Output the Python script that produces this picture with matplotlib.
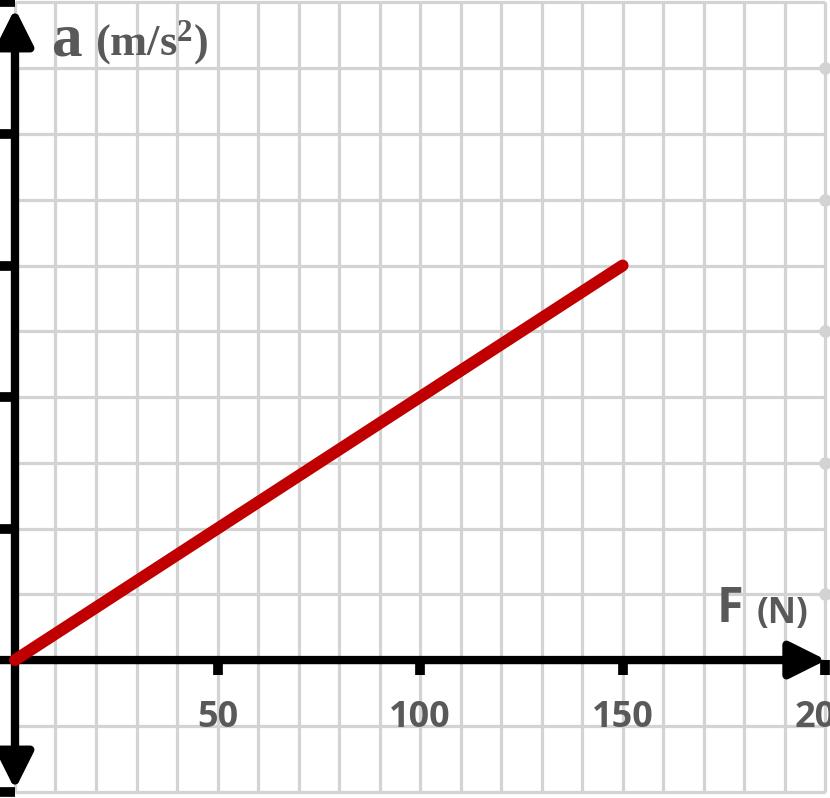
import matplotlib.pyplot as plt
from matplotlib.patches import FancyArrowPatch
import numpy as np

plt.rcParams['mathtext.fontset'] = 'custom'
plt.rcParams['mathtext.bf'] = 'Liberation Serif:bold'
plt.rcParams['mathtext.rm'] = 'Liberation Serif:bold'

# data
force = [0, 150]
accel = [0, 3]
x_ticks = [50, 100, 150, 200]
x_tick_labels = ['50', '100', '150', '200']
y_ticks = [-1, 1, 2, 3, 4, 5]
dot_y = [0.5, 1.5, 2.5, 3.5, 4.5]

grid_col = '#d3d3d3'
text_col = '#595959'

fig = plt.figure(figsize=(8.3, 7.98), dpi=100)
ax = fig.add_axes([0, 0, 1, 1])
ax.set_xlim(-3.70, 201.2)
ax.set_ylim(-1.049, 5.019)
ax.axis('off')

# grid paper
ax.vlines(np.arange(0, 201, 10), -1, 5, color=grid_col, lw=2.3, zorder=1)
ax.hlines(np.arange(-1, 5.01, 0.5), 0, 200, color=grid_col, lw=2.3, zorder=1)
ax.plot([200] * len(dot_y), dot_y, 'o', color=grid_col, ms=8, zorder=1)

# axes with arrows
yarr = FancyArrowPatch((0, -0.985), (0, 4.955), arrowstyle='<|-|>,head_length=1.1,head_width=0.55',
                       mutation_scale=20, lw=6, color='black', shrinkA=0, shrinkB=0, zorder=3)
ax.add_patch(yarr)
xarr = FancyArrowPatch((-3.7, 0), (200.3, 0), arrowstyle='-|>,head_length=1.1,head_width=0.55',
                       mutation_scale=20, lw=6, color='black', shrinkA=0, shrinkB=0, zorder=3)
ax.add_patch(xarr)

# tick marks
for yt in y_ticks:
    ax.plot([-3.7, 0], [yt, yt], color='black', lw=7, solid_capstyle='butt', zorder=3)
for xt in x_ticks:
    ax.plot([xt, xt], [0, -0.115], color='black', lw=7, solid_capstyle='butt', zorder=3)

# tick labels (the 200 is cut by the edge, as in the original)
for xt, lab in zip(x_ticks, x_tick_labels):
    ax.text(xt, -0.44, lab, ha='center', va='center', fontsize=26, fontweight='bold',
            family='Open Sans', color=text_col, zorder=4)

# the line
ax.plot(force, accel, color='#c00000', lw=8.6, solid_capstyle='round', zorder=4)

# axis names
ax.text(52 / 4.05 - 3.7, 4.6, 'a', fontsize=44, fontweight='bold', family='Liberation Serif',
        color=text_col, ha='left', va='baseline', zorder=4)
ax.text(95 / 4.05 - 3.7, 4.6, r'$\mathbf{(m/s^{2})}$', fontsize=32,
        color=text_col, ha='left', va='baseline', zorder=4)
ax.text(716 / 4.05 - 3.7, 0.29, 'F', fontsize=35, fontweight='bold', family='Open Sans',
        color=text_col, ha='left', va='baseline', zorder=4)
ax.text(756 / 4.05 - 3.7, 0.28, '(N)', fontsize=25, fontweight='bold', family='Open Sans',
        color=text_col, ha='left', va='baseline', zorder=4)

fig.savefig('out.png', dpi=100)
